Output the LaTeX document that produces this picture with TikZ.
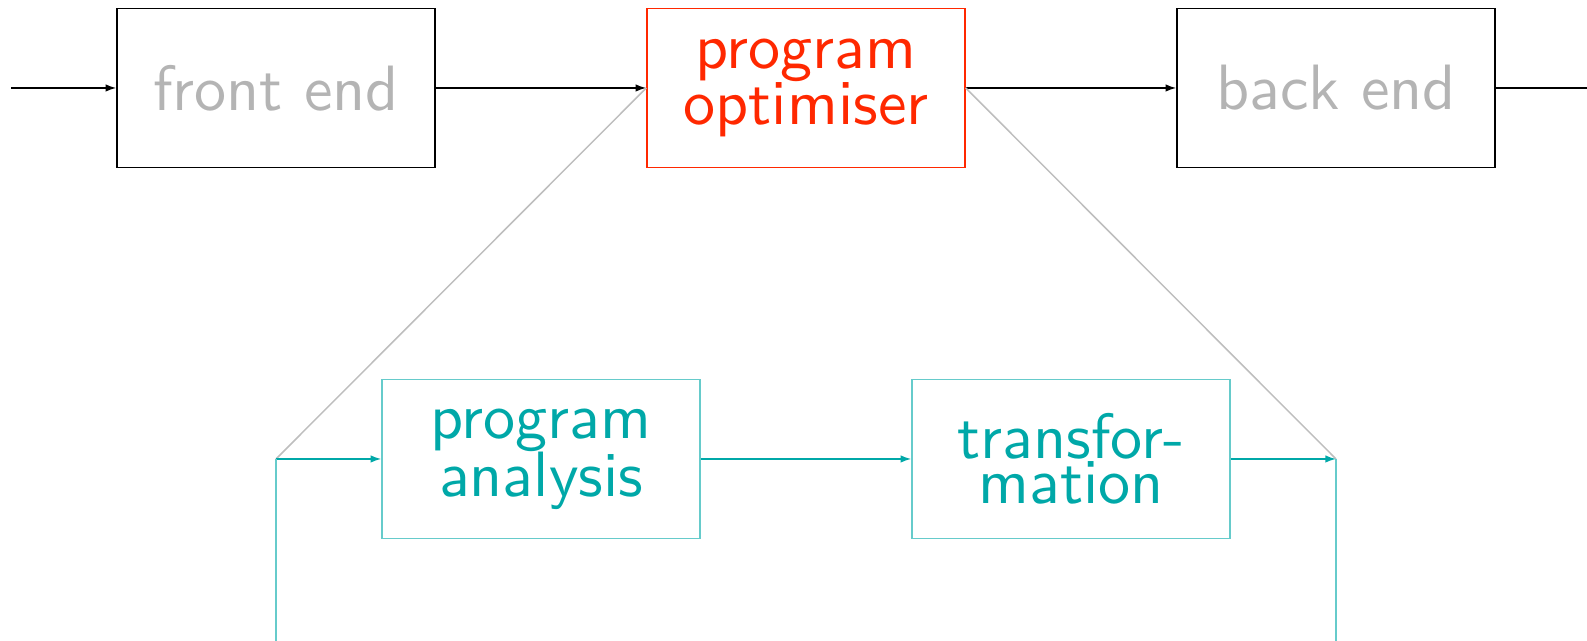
\documentclass[tikz,border=0pt]{standalone}
\usepackage{fontspec}
\newfontfamily\tenss{lmsans10-regular.otf}
\usetikzlibrary{arrows.meta}
\definecolor{optred}{RGB}{255,40,0}
\definecolor{teal2}{RGB}{0,168,168}
\definecolor{greytext}{RGB}{180,180,180}
\definecolor{greyline}{RGB}{190,190,190}
\tikzset{
  stage/.style={draw, minimum width=3cm, minimum height=1.5cm, inner sep=0pt, align=center,
    font={\tenss\fontsize{17.2}{12.1}\selectfont\lineskip=0pt\relax}},
  outer/.style={stage, draw=black, text=greytext},
  focus/.style={stage, draw=optred, text=optred},
  inner/.style={stage, draw=teal2!60, text=teal2},
  flow/.style={-{Latex[length=1mm,width=0.7mm]}, line width=0.4pt},
  zoomline/.style={draw=greyline, line width=0.4pt},
}
\begin{document}
\begin{tikzpicture}
\useasboundingbox (-2.604,0.830) rectangle (12.368,-5.217);
\node[outer] (fe) at (0,0) {front end};
\node[focus] (po) at (5,0) {program\\optimiser};
\node[outer] (be) at (10,0) {back end};
\node[inner] (pa) at (2.5,-3.5) {program\\analysis};
\node[inner] (tr) at (7.5,-3.5) {transfor-\\mation};
\coordinate (in) at (-2.5,0);
\coordinate (out) at (12.368,0);
\coordinate (lt) at (0,-3.5);
\coordinate (rt) at (10,-3.5);
\coordinate (lb) at (0,-5.217);
\coordinate (rb) at (10,-5.217);
\draw[flow] (in) -- (fe);
\draw[flow] (fe) -- (po);
\draw[flow] (po) -- (be);
\draw (be) -- (out);
\draw[zoomline] (po.west) -- (lt);
\draw[zoomline] (po.east) -- (rt);
\draw[flow, teal2] (lt) -- (pa);
\draw[flow, teal2] (pa) -- (tr);
\draw[flow, teal2] (tr) -- (rt);
\draw[teal2!60] (lt) -- (lb);
\draw[teal2!60] (rt) -- (rb);
\end{tikzpicture}
\end{document}
